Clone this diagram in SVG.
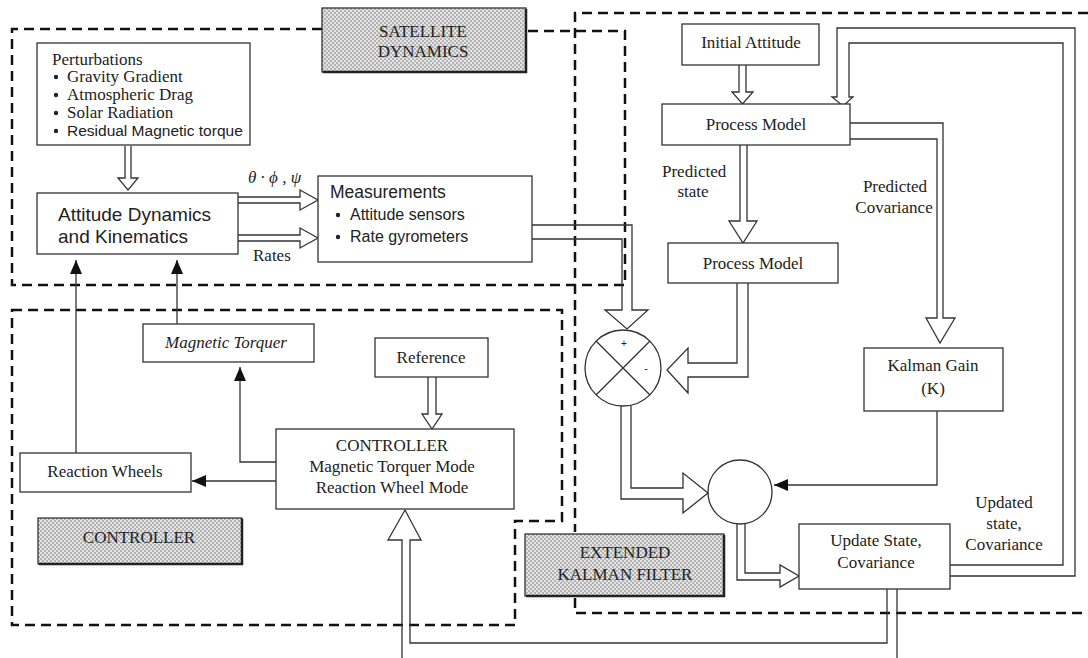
<svg xmlns="http://www.w3.org/2000/svg" width="1088" height="658" viewBox="0 0 1088 658">
<style>
.frame{fill:none;stroke:#111;stroke-width:2.5;stroke-dasharray:10 6}
.box{fill:#fff;stroke:#333;stroke-width:1.3}
.lbl{fill:url(#hatch);stroke:#333;stroke-width:1.3}
.sh{fill:none;stroke:#222;stroke-width:2.5}
.c{fill:none;stroke:#333;stroke-width:1.3}
.s{font-family:"Liberation Serif","Times New Roman",serif;font-size:17px;fill:#222}
.ss{font-family:"Liberation Sans",Arial,sans-serif;fill:#222}
.m{text-anchor:middle}
</style>
<defs>
<pattern id="hatch" width="4" height="4" patternUnits="userSpaceOnUse">
<rect width="4" height="4" fill="#b3b3b3"/>
<rect width="2" height="2" fill="#e4e4e4"/>
<rect x="2" y="2" width="2" height="2" fill="#e4e4e4"/>
</pattern>
<marker id="ah" markerWidth="14" markerHeight="12" refX="14" refY="6" orient="auto" markerUnits="userSpaceOnUse">
<path d="M0,0 L14,6 L0,12 Z" fill="#111"/>
</marker>
</defs>
<rect width="1088" height="658" fill="#fff"/>

<g id="frames">
<path class="frame" d="M322,29 H12 V285 H625 V31 H526"/>
<path class="frame" d="M12,310 H562 V521 H515 V625 H12 Z"/>
<path class="frame" d="M1088,13 H575 V532 M575,598 V613 H1088"/>
</g>

<g id="connectors">
<path class="c" d="M125,146 V178 H118 L128,190 L138,178 H131 V146"/>
<path class="c" d="M238,197 H300 V190 L318,200 L300,210 V203 H238"/>
<path class="c" d="M238,235 H300 V228 L318,238 L300,248 V241 H238"/>
<path class="c" d="M532,225 H632 V310 H648 L627,329 L605,310 H622 V239 H532"/>
<path class="c" d="M739,65 V92 H732 L742.5,104 L753,92 H746 V65"/>
<path class="c" d="M740,145 V221 H729 L743,243 L757,221 H747 V145"/>
<path class="c" d="M850,123 H943 V318 H955 L940,343 L926,318 H937 V139 H850"/>
<path class="c" d="M950,576 H1075 V28 H837 V97 H832 L843,106 L853,97 H849 V43 H1063 V565 H950"/>
<path class="c" d="M748,283 V377 H688 V393 L667,370 L688,348 V363 H737 V283"/>
<path class="c" d="M621,406 V499 H683 V513 L708,493 L683,473 V488 H631 V406"/>
<path class="c" d="M737,524 V580 H780 V587 L799,576 L780,565 V573 H745 V524"/>
<path class="c" d="M887,589 V643 H410 V540 H421 L405,510 L388,540 H402 V658 M897,589 V658"/>
<path class="c" d="M428,377 V414 H422 L432,429 L442,414 H436 V377"/>
<path class="c" d="M937,411 V485 H774" marker-end="url(#ah)"/>
<path class="c" d="M276,462 H240 V367" marker-end="url(#ah)"/>
<path class="c" d="M276,481 H192" marker-end="url(#ah)"/>
<path class="c" d="M76,453 V260" marker-end="url(#ah)"/>
<path class="c" d="M177,324 V260" marker-end="url(#ah)"/>
</g>

<g id="sat-label">
<rect class="lbl" x="322" y="8" width="204" height="64"/>
<path class="sh" d="M526,9 V72 H323"/>
<text class="s m" x="423" y="37">SATELLITE</text>
<text class="s m" x="423" y="57">DYNAMICS</text>
</g>

<g id="perturbations">
<rect class="box" x="37" y="43" width="213" height="102"/>
<text class="s" x="52" y="65">Perturbations</text>
<circle cx="56" cy="77" r="2.2" fill="#222"/>
<circle cx="56" cy="95" r="2.2" fill="#222"/>
<circle cx="56" cy="113" r="2.2" fill="#222"/>
<circle cx="56" cy="131" r="2.2" fill="#222"/>
<text class="s" x="67" y="82">Gravity Gradient</text>
<text class="s" x="67" y="100">Atmospheric Drag</text>
<text class="s" x="67" y="118">Solar Radiation</text>
<text class="ss" x="67" y="136" font-size="15.5">Residual Magnetic torque</text>
</g>

<g id="attitude">
<rect class="box" x="37" y="193" width="201" height="61"/>
<text class="ss" x="58" y="221" font-size="19">Attitude Dynamics</text>
<text class="ss" x="58" y="243" font-size="19">and Kinematics</text>
</g>

<g id="labels-sd">
<text class="s" x="248" y="183" font-style="italic" font-size="16">θ · ϕ , ψ</text>
<text class="s" x="253" y="261" font-size="16.5">Rates</text>
</g>

<g id="measurements">
<rect class="box" x="318" y="176" width="214" height="86"/>
<text class="ss" x="330" y="198" font-size="17.5">Measurements</text>
<circle cx="338" cy="215" r="2.2" fill="#222"/>
<circle cx="338" cy="237" r="2.2" fill="#222"/>
<text class="ss" x="350" y="220" font-size="16">Attitude sensors</text>
<text class="ss" x="350" y="242" font-size="16">Rate gyrometers</text>
</g>

<g id="initial-attitude">
<rect class="box" x="682" y="24" width="137" height="41"/>
<text class="s m" x="751" y="48">Initial Attitude</text>
</g>

<g id="process-model-1">
<rect class="box" x="662" y="104" width="188" height="41"/>
<text class="s m" x="756" y="130">Process Model</text>
</g>

<g id="predicted-labels">
<text class="s" x="662" y="177" font-size="16.5">Predicted</text>
<text class="s m" x="693" y="197" font-size="16.5">state</text>
<text class="s m" x="895" y="192" font-size="16.5">Predicted</text>
<text class="s m" x="894" y="213" font-size="16.5">Covariance</text>
</g>

<g id="process-model-2">
<rect class="box" x="668" y="243" width="170" height="40"/>
<text class="s m" x="753" y="269">Process Model</text>
</g>

<g id="kalman-gain">
<rect class="box" x="864" y="348" width="139" height="63"/>
<text class="s m" x="933" y="371">Kalman Gain</text>
<text class="s m" x="933" y="394">(K)</text>
</g>

<g id="sum1">
<circle cx="623" cy="368" r="38" fill="none" stroke="#333" stroke-width="1.3"/>
<path class="c" d="M596,341 L650,395 M650,341 L596,395"/>
<text class="ss m" x="624" y="347" font-size="10">+</text>
<text class="ss m" x="646" y="372" font-size="11">-</text>
</g>

<g id="sum2">
<circle cx="740" cy="492" r="32" fill="none" stroke="#333" stroke-width="1.3"/>
</g>

<g id="update-state">
<rect class="box" x="799" y="524" width="151" height="65"/>
<text class="s m" x="876" y="546">Update State,</text>
<text class="s m" x="876" y="568">Covariance</text>
</g>

<g id="updated-label">
<text class="s m" x="1004" y="508">Updated</text>
<text class="s m" x="1004" y="529">state,</text>
<text class="s m" x="1004" y="550">Covariance</text>
</g>

<g id="magnetic-torquer">
<rect class="box" x="143" y="324" width="171" height="38"/>
<text class="s m" x="226" y="348" font-style="italic">Magnetic Torquer</text>
</g>

<g id="reference">
<rect class="box" x="375" y="338" width="113" height="39"/>
<text class="s m" x="431" y="363">Reference</text>
</g>

<g id="controller">
<rect class="box" x="276" y="429" width="238" height="80"/>
<text class="s m" x="392" y="451">CONTROLLER</text>
<text class="s m" x="392" y="472">Magnetic Torquer Mode</text>
<text class="s m" x="392" y="493">Reaction Wheel Mode</text>
</g>

<g id="reaction-wheels">
<rect class="box" x="20" y="453" width="171" height="39"/>
<text class="s m" x="105" y="477">Reaction Wheels</text>
</g>

<g id="controller-label">
<rect class="lbl" x="38" y="518" width="204" height="46"/>
<path class="sh" d="M242,519 V564 H39"/>
<text class="s m" x="139" y="543">CONTROLLER</text>
</g>

<g id="ekf-label">
<rect class="lbl" x="525" y="534" width="199" height="62"/>
<path class="sh" d="M724,535 V596 H526"/>
<text class="s m" x="625" y="558">EXTENDED</text>
<text class="s m" x="625" y="580">KALMAN FILTER</text>
</g>
</svg>
